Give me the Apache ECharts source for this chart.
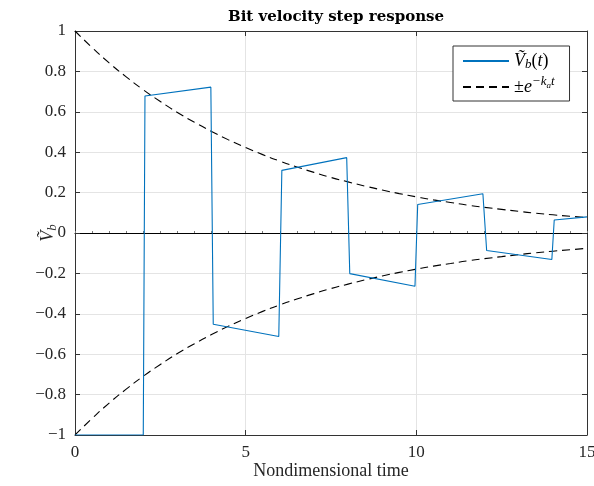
<!DOCTYPE html>
<html>
<head>
<meta charset="utf-8">
<script src="https://cdn.jsdelivr.net/npm/echarts@6/dist/echarts.min.js"></script>
<style>html,body{margin:0;padding:0;background:#fff}#c{width:594px;height:486px}</style>
</head>
<body>
<div id="c"></div>
<script>
// ---- data ----
var titleText = 'Bit velocity step response';
var xName = 'Nondimensional time';
var xTicks = [0, 5, 10, 15];
var yTicks = [-1, -0.8, -0.6, -0.4, -0.2, 0, 0.2, 0.4, 0.6, 0.8, 1];
// blue step response (t, value)
var vbT = [0, 2.0, 2.05, 3.98, 4.05, 5.97, 6.06, 7.96, 8.05, 9.96, 10.04, 11.95, 12.06, 13.97, 14.04, 15];
var vbV = [-1, -1, 0.678, 0.722, -0.452, -0.512, 0.31, 0.373, -0.201, -0.264, 0.141, 0.194, -0.087, -0.131, 0.064, 0.080];
// envelope (t, +value); lower branch is the negative
var envT = [0, 0.5, 1, 1.5, 2, 2.5, 3, 3.5, 4, 4.5, 5, 5.5, 6, 6.5, 7, 7.5, 8, 8.5, 9, 9.5, 10, 10.5, 11, 11.5, 12, 12.5, 13, 13.5, 14, 14.5, 15];
var envV = [1.000, 0.918, 0.842, 0.773, 0.709, 0.651, 0.597, 0.548, 0.503, 0.461, 0.423, 0.388, 0.356, 0.327, 0.300, 0.275, 0.253, 0.232, 0.213, 0.195, 0.179, 0.164, 0.151, 0.138, 0.127, 0.117, 0.107, 0.098, 0.090, 0.083, 0.076];

var FONT = 'Liberation Serif';
var AX = '#333333';
var TXT = '#262626';
var GRIDC = '#e4e4e4';

var vbData = vbT.map(function (t, i) { return [t, vbV[i]]; });
var envUp = envT.map(function (t, i) { return [t, envV[i]]; });
var envLo = envT.map(function (t, i) { return [t, -envV[i]]; });

function fmtY(v) {
  var s = String(Math.round(Math.abs(v) * 10) / 10);
  return v < 0 ? '\u2212' + s : s;
}

var chart = echarts.init(document.getElementById('c'), null, {renderer: 'canvas'});
var option = {
  animation: false,
  backgroundColor: '#fff',
  title: {
    text: titleText,
    left: 331, top: 5, textAlign: 'center',
    textStyle: {fontFamily: 'DejaVu Serif', fontWeight: 'bold', fontSize: 15, color: '#000'}
  },
  grid: {left: 75, right: 7, top: 31, bottom: 51, containLabel: false, outerBoundsMode: 'none'},
  legend: {
    orient: 'vertical',
    left: 453, top: 46,
    padding: [6, 15, 5, 9],
    itemGap: 4,
    itemWidth: 46, itemHeight: 14,
    backgroundColor: '#fff',
    borderColor: AX, borderWidth: 1,
    itemStyle: {opacity: 0},
    data: ['Vb', 'env'],
    formatter: function (name) {
      if (name === 'Vb') return '{v|V\u0303}{s|b}{r|(}{v|t}{r|)}';
      return '{r|\u00b1}{v|e}{sup|\u2212k}{ss|a}{sup|t}';
    },
    textStyle: {
      fontFamily: FONT, fontSize: 18, color: '#000',
      rich: {
        v: {fontFamily: FONT, fontStyle: 'italic', fontSize: 18, color: '#000'},
        r: {fontFamily: FONT, fontSize: 18, color: '#000'},
        s: {fontFamily: FONT, fontStyle: 'italic', fontSize: 13, color: '#000', padding: [8, 0, 0, 0]},
        sup: {fontFamily: FONT, fontStyle: 'italic', fontSize: 13, color: '#000', padding: [0, 0, 10, 0]},
        ss: {fontFamily: FONT, fontStyle: 'italic', fontSize: 9, color: '#000', padding: [0, 0, 3, 0]}
      }
    }
  },
  xAxis: [
    {
      type: 'value', min: 0, max: 15, interval: 5, position: 'bottom',
      name: xName, nameLocation: 'middle', nameGap: 27, nameMoveOverlap: false,
      nameTextStyle: {fontFamily: FONT, fontSize: 18, color: TXT},
      axisLine: {onZero: false, lineStyle: {color: AX, width: 1}},
      axisTick: {inside: true, length: 5, lineStyle: {color: AX}},
      axisLabel: {fontFamily: FONT, fontSize: 17, color: TXT, margin: 9,
        formatter: function (v) { return xTicks.indexOf(v) >= 0 ? String(v) : ''; }},
      splitLine: {show: true, lineStyle: {color: GRIDC, width: 1}}
    },
    {
      type: 'value', min: 0, max: 15, interval: 5, position: 'top',
      axisLine: {onZero: false, lineStyle: {color: AX, width: 1}},
      axisTick: {inside: true, length: 5, lineStyle: {color: AX}},
      axisLabel: {show: false}, splitLine: {show: false}
    },
    {
      type: 'value', min: 0, max: 15, interval: 0.5, position: 'bottom',
      axisLine: {onZero: true, lineStyle: {color: '#000', width: 1}},
      axisTick: {show: true, inside: true, length: 2, lineStyle: {color: '#777'}},
      axisLabel: {show: false}, splitLine: {show: false}
    }
  ],
  yAxis: [
    {
      type: 'value', min: -1, max: 1, interval: 0.2, position: 'left',
      name: '{v|V\u0303}{s|b}', nameLocation: 'middle', nameGap: 16, nameRotate: 90, nameMoveOverlap: false,
      nameTextStyle: {fontFamily: FONT, fontSize: 18, color: TXT,
        rich: {
          v: {fontFamily: FONT, fontStyle: 'italic', fontSize: 18, color: TXT},
          s: {fontFamily: FONT, fontStyle: 'italic', fontSize: 13, color: TXT, padding: [8, 0, 0, 0]}
        }},
      axisLine: {onZero: false, lineStyle: {color: AX, width: 1}},
      axisTick: {inside: true, length: 5, lineStyle: {color: AX}},
      axisLabel: {fontFamily: FONT, fontSize: 17, color: TXT, margin: 9, formatter: fmtY},
      splitLine: {show: true, lineStyle: {color: GRIDC, width: 1}}
    },
    {
      type: 'value', min: -1, max: 1, interval: 0.2, position: 'right',
      axisLine: {onZero: false, lineStyle: {color: AX, width: 1}},
      axisTick: {inside: true, length: 5, lineStyle: {color: AX}},
      axisLabel: {show: false}, splitLine: {show: false}
    }
  ],
  series: [
    {
      name: 'Vb', type: 'line', data: vbData, showSymbol: false, symbol: 'none',
      xAxisIndex: 0, yAxisIndex: 0, z: 4,
      lineStyle: {color: '#0072BD', width: 1.1}, itemStyle: {color: '#0072BD'}
    },
    {
      name: 'env', type: 'line', data: envUp, showSymbol: false, symbol: 'none', smooth: true,
      xAxisIndex: 0, yAxisIndex: 0, z: 3,
      lineStyle: {color: '#000', width: 1.1, type: [8, 5]}, itemStyle: {color: '#000'}
    },
    {
      name: 'env', type: 'line', data: envLo, showSymbol: false, symbol: 'none', smooth: true,
      xAxisIndex: 0, yAxisIndex: 0, z: 3,
      lineStyle: {color: '#000', width: 1.1, type: [8, 5]}, itemStyle: {color: '#000'}
    }
  ]
};
chart.setOption(option);
</script>
</body>
</html>
